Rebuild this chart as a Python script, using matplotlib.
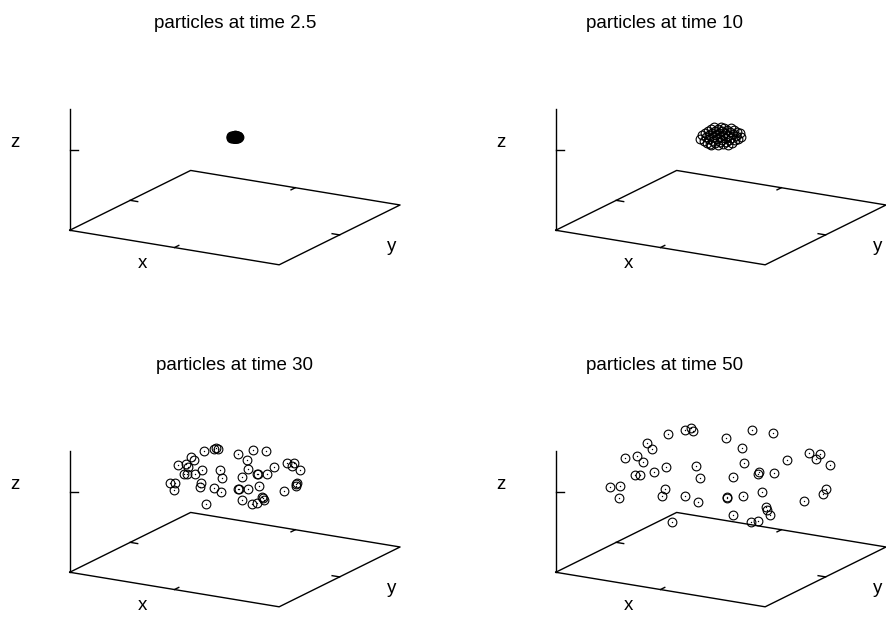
import math
import numpy as np
import matplotlib
matplotlib.use("Agg")
import matplotlib.pyplot as plt

# particle positions at each output time (x, y, z), source at the origin
times = ["2.5", "10", "30", "50"]

x_t1 = [-4.0, -3.4, -3.4, -2.6, -2.6, -2.6, -1.8, -1.8, -1.8, -1.8, -1.0, -1.0, -1.0, -1.0, -1.0,
        -0.2, -0.2, -0.2, -0.2, -0.2, 0.6, 0.6, 0.6, 0.6, 0.6, 1.4, 1.4, 1.4, 1.4, 1.4,
        2.2, 2.2, 2.2, 2.2, 3.0, 3.0, 3.0, 3.6, 3.6, 4.0, -2.2, -1.4, 0.2, 1.0, 1.8, 2.6, -0.6, 0.2, -2.9, 3.3]
y_t1 = [-2.3, -2.0, -2.0, -1.5, -1.5, -1.5, -1.0, -1.0, -1.0, -1.0, -0.6, -0.6, -0.6, -0.6, -0.6,
        -0.1, -0.1, -0.1, -0.1, -0.1, 0.3, 0.3, 0.3, 0.3, 0.3, 0.8, 0.8, 0.8, 0.8, 0.8,
        1.3, 1.3, 1.3, 1.3, 1.7, 1.7, 1.7, 2.1, 2.1, 2.3, -1.3, -0.8, 0.1, 0.6, 1.0, 1.5, -0.3, 0.1, -1.7, 1.9]
z_t1 = [0.0, 0.6, -0.6, 1.0, 0.0, -1.0, 1.3, 0.4, -0.4, -1.3, 1.4, 0.7, 0.0, -0.7, -1.4,
        1.5, 0.7, 0.0, -0.7, -1.5, 1.4, 0.7, 0.0, -0.7, -1.4, 1.4, 0.7, 0.0, -0.7, -1.4,
        1.2, 0.4, -0.4, -1.2, 0.9, 0.0, -0.9, 0.5, -0.5, 0.0, 0.5, -0.9, 0.3, -0.3, 0.9, -0.6, -1.1, 1.1, -0.4, 0.2]

x_t2 = [-21, -19, -17, -16, -15, -14, -13, -12, -12, -11, -10, -10, -9, -8, -8, -7, -6, -6, -5, -4,
        -3, -3, -2, -1, -1, 0, 1, 1, 2, 2, 3, 4, 4, 5, 6, 7, 7, 8, 9, 10,
        10, 11, 12, 13, 14, 15, 16, 17, 19, 20]
y_t2 = [-12, -11, -10, -9, -9, -8, -8, -7, -7, -6, -6, -6, -5, -5, -5, -4, -3, -3, -3, -2,
        -2, -2, -1, -1, -1, 0, 1, 1, 1, 1, 2, 2, 2, 3, 3, 4, 4, 5, 5, 6,
        6, 6, 7, 8, 8, 9, 9, 10, 11, 12]
z_t2 = [-2, 2, -4, 4, 0, -6, 6, 2, -2, -7, 8, -8, 4, 0, -4, 10, 6, -6, 2, -2,
        8, -8, 4, 0, -5, 10, 6, -3, 2, -7, 9, -1, 4, -5, 7, 1, -8, -3, 5, 9,
        -1, -6, 3, 7, -3, 1, 5, -2, 4, 0]

x_t3 = [-31, -21, -17, -19, 3, 18, 31, -44, -41, 12, -57, -49, -47, -33, -40, -51, -48, -15, -13, 13,
        7, 22, 23, 32, 39, 52, 59, 57, 65, -65, -60, -61, -34, -35, -21, -14, 3, 4, 13, 24,
        7, 17, 22, 27, 28, 29, -29, 49, 61, 62, 61]
y_t3 = [-18, -12, -10, -11, 2, 10, 18, -25, -24, 7, -33, -28, -27, -19, -23, -29, -28, -9, -8, 8,
        4, 13, 13, 18, 23, 30, 34, 33, 38, -38, -35, -35, -20, -20, -12, -8, 2, 2, 8, 14,
        4, 10, 13, 16, 16, 17, -17, 28, 35, 36, 35]
z_t3 = [28, 30, 30, 31, 25, 29, 28, 22, 19, 19, 14, 15, 12, 9, 5, 5, 5, 9, 1, 10,
        2, 5, 5, 5, 12, 16, 16, 13, 9, -4, -4, -11, -4, -8, -9, -13, -10, -10, -10, -7,
        -21, -25, -24, -18, -19, -21, -25, -12, -5, -4, -7]

x_t4 = [-53, -36, -30, -28, 5, 31, 52, -74, -69, 21, -96, -84, -78, 23, 66, 89, 99, 95, 110, -25,
        -86, -81, -67, -55, -21, 12, 38, 37, 53, -111, -101, -102, -56, -59, -36, -23, 6, 6, 22, 41,
        83, 105, 102, 45, 46, 49, 12, 30, 37, -49]
y_t4 = [-31, -21, -17, -16, 3, 18, 30, -43, -40, 12, -55, -48, -45, 13, 38, 51, 57, 55, 63, -14,
        -50, -47, -39, -32, -12, 7, 22, 21, 31, -64, -58, -59, -32, -34, -21, -13, 3, 3, 13, 24,
        48, 61, 59, 26, 27, 28, 7, 17, 21, -28]
z_t4 = [45, 49, 50, 47, 41, 48, 46, 36, 30, 31, 21, 23, 17, 16, 19, 26, 25, 20, 14, 13,
        4, 4, 7, 12, 1, 2, 7, 5, 6, -8, -7, -19, -10, -17, -17, -23, -18, -19, -17, -13,
        -22, -10, -15, -28, -31, -36, -36, -43, -42, -43]

particles = [(x_t1, y_t1, z_t1), (x_t2, y_t2, z_t2), (x_t3, y_t3, z_t3), (x_t4, y_t4, z_t4)]

# axis ranges (gnuplot style, xy-plane pushed down by ticslevel)
xr = (-140, 140)
yr = (-140, 140)
zr = (-40, 40)
ticslevel = 0.5
elev, azim = 16.6, -60

# pixel centre of the 3d box for each panel, and title centres
centres = [(234.9, 157.1), (720.9, 157.1), (234.9, 499.1), (720.9, 499.1)]
title_pos = [(235, 28), (665, 28), (235, 370), (665, 370)]

FONT = "Liberation Sans"
FS = 13.5


def add_panel(fig, cx, cy, w=360.0):
    # mplot3d puts the box centre at 0.095/0.185 of the square axes
    frac = 0.095 / 0.185
    W, H = fig.get_size_inches() * fig.dpi
    left = cx - frac * w
    bottom = (H - cy) - frac * w
    ax = fig.add_axes([left / W, bottom / H, w / W, w / H], projection="3d")
    ax.set_proj_type("ortho")
    ax.view_init(elev=elev, azim=azim)
    ax.set_box_aspect((1, 1, 0.5224), zoom=353.9 / w)
    ax.set_axis_off()
    ax.set_facecolor("none")
    return ax


def label3d(ax, x, y, z, s):
    # project the 3d anchor once and place a plain 2d text there
    v = ax.get_proj() @ np.array([x, y, z, 1.0])
    ax.text2D(v[0] / v[3], v[1] / v[3], s, transform=ax.transData,
              ha="center", va="center", family=FONT, fontsize=FS)


def draw_frame(ax):
    x0, x1 = xr
    y0, y1 = yr
    zb = zr[0] - ticslevel * (zr[1] - zr[0])
    z1 = zr[1]
    ax.set_xlim(*xr)
    ax.set_ylim(*yr)
    ax.set_zlim(zb, z1)

    kw = dict(color="black", lw=1.0)
    ax.plot([x0, x1, x1, x0, x0], [y0, y0, y1, y1, y0], [zb] * 5, **kw)
    ax.plot([x0, x0], [y0, y0], [zb, z1], **kw)

    tl = 10
    # x tics at 0 on front and back edges, y tics at 0 on left and right edges
    ax.plot([0, 0], [y0, y0 + tl], [zb, zb], **kw)
    ax.plot([0, 0], [y1, y1 - tl], [zb, zb], **kw)
    ax.plot([x0, x0 + tl], [0, 0], [zb, zb], **kw)
    ax.plot([x1, x1 - tl], [0, 0], [zb, zb], **kw)
    # z tic at 0, pointing right on screen
    a = math.radians(azim + 90)
    ax.plot([x0, x0 + tl * math.cos(a)], [y0, y0 + tl * math.sin(a)], [0, 0], **kw)

    ax.set_xlim(*xr)
    ax.set_ylim(*yr)
    ax.set_zlim(zb, z1)

    label3d(ax, 0, -213, zb, "x")
    label3d(ax, 216, -11, zb, "y")
    label3d(ax, -195, -172, 7, "z")


def main():
    fig = plt.figure(figsize=(8.87, 6.29), dpi=100)
    for i in range(4):
        ax = add_panel(fig, *centres[i])
        px, py, pz = particles[i]
        ax.plot(px, py, pz, linestyle="none", marker="o", ms=6.3, mfc="none",
                mec="black", mew=0.8, clip_on=False)
        ax.plot(px, py, pz, linestyle="none", marker="o", ms=1.0, mfc="black",
                mec="black", mew=0, clip_on=False)
        draw_frame(ax)

        tx, ty = title_pos[i]
        fig.text(tx / 887, 1 - ty / 629, "particles at time " + times[i],
                 ha="center", va="baseline", family=FONT, fontsize=FS)

    fig.savefig("out.png", dpi=100)


if __name__ == "__main__":
    main()
